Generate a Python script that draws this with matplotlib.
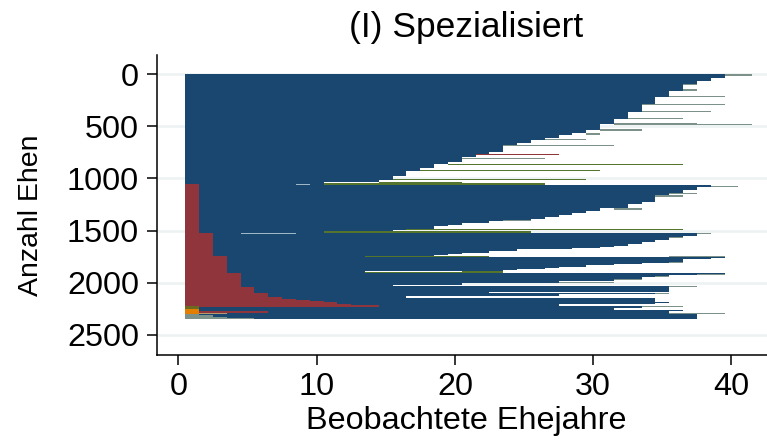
import matplotlib
matplotlib.use("Agg")
from matplotlib import pyplot as plt

plt.rcParams['font.family'] = ['Liberation Sans', 'DejaVu Sans']

# Farben wie Stata s2color
NAVY = "#1a476f"
MAROON = "#90353b"
GREEN = "#55752f"
ORANGE = "#e37e00"
GRAY = "#7b9189"
PALE = "#9db7c5"
TAN = "#b89a70"

# Hauptzustand: Ende der Zeilengruppe und Ende der Beobachtung (Ehejahre)
navy_end = [33, 65, 97, 161, 215, 289, 359, 429, 481, 535, 567, 583, 615, 631, 657, 689, 743, 769, 791, 839,
            861, 897, 929, 973, 1015, 1037, 1060,
            1085, 1111, 1143, 1175, 1223, 1248, 1287, 1309, 1328, 1351, 1367, 1392, 1405, 1431, 1447, 1456,
            1482, 1491, 1495, 1501, 1520,
            1536, 1552, 1575, 1591, 1613, 1629, 1645, 1655, 1664, 1671, 1680, 1693, 1712, 1725, 1735, 1745, 1752,
            1760, 1776, 1799, 1815, 1824, 1834, 1847, 1856, 1869, 1879, 1888, 1905,
            1917, 1927, 1949, 1965, 1984, 1994, 2007, 2018, 2026, 2036,
            2045, 2087, 2099, 2112, 2125, 2144,
            2183, 2199, 2209, 2225, 2234, 2247, 2263, 2276, 2304, 2343, 2352]
navy_dur = [39.5, 38.5, 37.5, 36.5, 35.5, 34.5, 33.5, 32.5, 31.5, 30.5, 29.5, 28.5, 27.5, 26.5, 25.5, 24.5, 23.5, 22.5, 21.5, 20.5,
            19.5, 18.5, 17.5, 16.5, 15.5, 14.5, 10.5,
            38.5, 37.5, 36.5, 35.5, 34.5, 33.5, 32.5, 30.5, 29.5, 28.5, 27.5, 26.5, 25.5, 22.5, 20.5, 19.5,
            18.5, 17.5, 16.5, 15.5, 10.5,
            38.5, 37.5, 36.5, 35.5, 34.5, 33.5, 32.5, 31.5, 30.5, 29.5, 28.5, 24.5, 22.5, 20.5, 19.5, 18.5, 13.5,
            39.5, 38.5, 36.5, 35.5, 33.5, 31.5, 29.5, 27.5, 26.5, 24.5, 23.5, 13.5,
            39.5, 37.5, 35.5, 33.5, 31.5, 27.5, 27.5, 20.5, 14.5, 15.5,
            37.5, 35.5, 22.5, 35.5, 27.5, 16.5,
            34.5, 35.5, 34.5, 27.5, 36.5, 33.5, 31.5, 36.5, 35.5, 37.5, 37.5]

# Zweiter Zustand am Anfang der Ehe
red_end = [1520, 1744, 1911, 2039, 2103, 2141, 2160, 2170, 2179, 2189, 2202, 2211, 2218, 2234]
red_dur = [1.5, 2.5, 3.5, 4.5, 5.5, 6.5, 7.5, 8.5, 9.5, 10.5, 11.5, 12.5, 13.5, 14.5]
red_first_row = 1056

# Einzelne Abschnitte: Zeile von, Zeile bis, Jahr von, Jahr bis
green_segments = [(859, 869, 19.5, 36.5), (920, 930, 17.5, 30.5), (1006, 1016, 15.5, 29.5),
                  (1047, 1060, 10.5, 26.5), (1038, 1060, 14.5, 20.5),
                  (1486, 1496, 16.5, 36.5), (1508, 1520, 10.5, 25.5), (1500, 1520, 14.5, 24.5),
                  (1745, 1752, 13.5, 22.5), (1895, 1905, 13.5, 23.5), (1888, 1905, 20.5, 23.5),
                  (2268, 2276, 16.5, 23.5)]
gray_segments = [(2, 12, 39.5, 41.5), (92, 102, 36.5, 37.5), (146, 156, 36.5, 37.5), (207, 217, 35.5, 39.5),
                 (284, 294, 34.5, 39.5), (283, 295, 33.5, 34.5), (348, 358, 33.5, 38.5), (418, 428, 32.5, 36.5),
                 (476, 486, 31.5, 41.5), (472, 486, 31.5, 37.5), (528, 540, 30.5, 33.5), (568, 578, 29.5, 30.5),
                 (620, 630, 26.5, 29.5), (680, 690, 23.5, 31.5), (802, 812, 20.5, 26.5),
                 (1074, 1084, 38.5, 40.5), (1138, 1148, 35.5, 37.5), (1163, 1173, 34.5, 36.5),
                 (1288, 1298, 31.5, 33.5), (1394, 1404, 23.5, 25.5),
                 (1522, 1532, 37.5, 38.5), (1560, 1570, 35.5, 36.5), (1803, 1813, 35.5, 36.5),
                 (1746, 1756, 35.5, 39.5), (1912, 1922, 37.5, 39.5), (1938, 1948, 34.5, 35.5),
                 (1962, 1972, 31.5, 33.5), (1992, 2002, 27.5, 31.5), (2034, 2044, 35.5, 37.5),
                 (2098, 2108, 34.5, 35.5), (2226, 2236, 33.5, 36.5), (2294, 2304, 35.5, 39.5),
                 (2300, 2352, 0.5, 1.5), (2310, 2352, 1.5, 2.5), (2327, 2352, 2.5, 3.5), (2343, 2352, 3.5, 5.5)]
maroon_segments = [(767, 772, 21.5, 27.5), (791, 797, 21.5, 31.5), (2272, 2288, 1.5, 6.5)]
pale_segments = [(1050, 1058, 8.5, 9.5), (1523, 1531, 4.5, 8.5)]
olive_segments = [(2225, 2253, 0.5, 1.5)]
orange_segments = [(2253, 2300, 0.5, 1.5)]
tan_segments = [(2276, 2300, 1.5, 3.5)]

xticks = [0, 10, 20, 30, 40]
yticks = [0, 500, 1000, 1500, 2000, 2500]


def draw_segments(ax, segments, color):
    for row_from, row_to, year_from, year_to in segments:
        ax.barh(row_from, year_to - year_from, height=row_to - row_from, left=year_from,
                align="edge", color=color, linewidth=0, zorder=3)


fig = plt.figure(figsize=(7.67, 4.41), dpi=100)
ax = fig.add_axes([157 / 767, 1 - 355 / 441, 610 / 767, 300 / 441])

# Navy Zeilen
row_start = [0] + navy_end[:-1]
ax.barh(row_start, [d - 0.5 for d in navy_dur], left=0.5,
        height=[e - s for s, e in zip(row_start, navy_end)],
        align="edge", color=NAVY, linewidth=0, zorder=2)

# Rote Treppe
red_start = [red_first_row] + red_end[:-1]
ax.barh(red_start, [d - 0.5 for d in red_dur], left=0.5,
        height=[e - s for s, e in zip(red_start, red_end)],
        align="edge", color=MAROON, linewidth=0, zorder=3)

draw_segments(ax, green_segments, GREEN)
draw_segments(ax, gray_segments, GRAY)
draw_segments(ax, pale_segments, PALE)
draw_segments(ax, olive_segments, "#6b6a1e")
draw_segments(ax, orange_segments, ORANGE)
draw_segments(ax, tan_segments, TAN)
draw_segments(ax, maroon_segments, MAROON)

ax.set_xlim(-1.54, 42.57)
ax.set_ylim(2694, -185)
ax.set_xticks(xticks)
ax.set_yticks(yticks)
ax.grid(axis="y", color="#edf2f2", linewidth=1.9, zorder=0)
ax.set_axisbelow(True)

for side in ["top", "right"]:
    ax.spines[side].set_visible(False)
for side in ["left", "bottom"]:
    ax.spines[side].set_linewidth(1.1)
ax.tick_params(axis="x", length=7, width=1.1, labelsize=23.3, pad=5)
ax.tick_params(axis="y", length=7, width=1.1, labelsize=23.3, pad=6)

fig.text(466 / 767, 1 - 421 / 441, "Beobachtete Ehejahre", fontsize=23.3, ha="center", va="center")
fig.text(31 / 767, 1 - 215 / 441, "Anzahl Ehen", fontsize=20.5, rotation=90, ha="center", va="center")
fig.text(466 / 767, 1 - 27.5 / 441, "(I) Spezialisiert", fontsize=25.5, ha="center", va="center")

fig.savefig("out.png", dpi=100)
